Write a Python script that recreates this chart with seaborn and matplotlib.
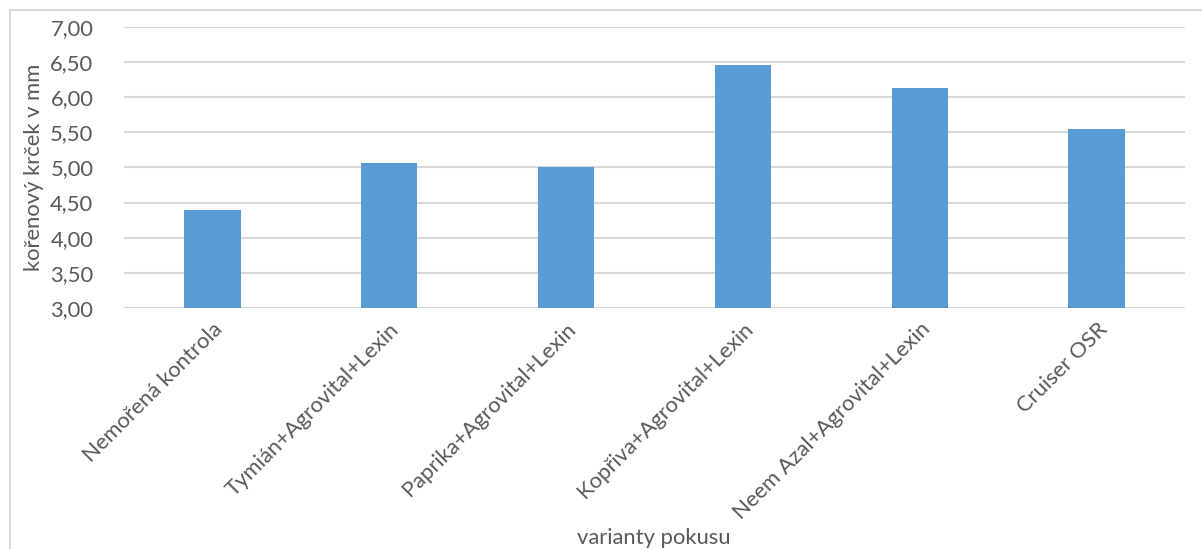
import matplotlib
matplotlib.use("Agg")
import matplotlib.pyplot as plt
from matplotlib.patches import Rectangle
from matplotlib.ticker import FuncFormatter, MultipleLocator
import seaborn as sns

# data
categories = ["Nemořená kontrola", "Tymián+Agrovital+Lexin", "Paprika+Agrovital+Lexin",
              "Kopřiva+Agrovital+Lexin", "Neem Azal+Agrovital+Lexin", "Cruiser OSR"]
values = [4.40, 5.07, 5.00, 6.46, 6.13, 5.54]

bar_color = "#5B9BD5"
text_color = "#595959"
grid_color = "#D9D9D9"
fs = 15.8

sns.set_style("white")
plt.rcParams["font.family"] = ["Lato", "DejaVu Sans"]

fig = plt.figure(figsize=(12.02, 5.49), dpi=100)
ax = fig.add_axes([0.103, 0.439, 0.883, 0.512])

sns.barplot(x=categories, y=values, color=bar_color, saturation=1, width=0.32,
            edgecolor="none", ax=ax, zorder=3)

ax.set_ylim(3, 7)
ax.yaxis.set_major_locator(MultipleLocator(0.5))
ax.yaxis.set_major_formatter(FuncFormatter(lambda v, p: f"{v:.2f}".replace(".", ",")))
ax.grid(axis="y", color=grid_color, linewidth=1.5, zorder=0)
ax.set_axisbelow(True)
for s in ax.spines.values():
    s.set_visible(False)
ax.tick_params(axis="both", length=0, colors=text_color, labelsize=fs)
ax.tick_params(axis="y", pad=22)
plt.setp(ax.get_xticklabels(), rotation=45, ha="right", rotation_mode="anchor")
ax.tick_params(axis="x", pad=8)

ax.set_xlabel("")
ax.set_ylabel("kořenový krček v mm", color=text_color, fontsize=fs, labelpad=4)
fig.text(0.544, 0.002, "varianty pokusu", color=text_color, fontsize=fs,
         ha="center", va="bottom")

# chart area border
fig.patches.append(Rectangle((0.008, -0.05), 1.2, 1.032, transform=fig.transFigure,
                             fill=False, edgecolor=grid_color, linewidth=1.5))

fig.savefig("out.png", dpi=100)
